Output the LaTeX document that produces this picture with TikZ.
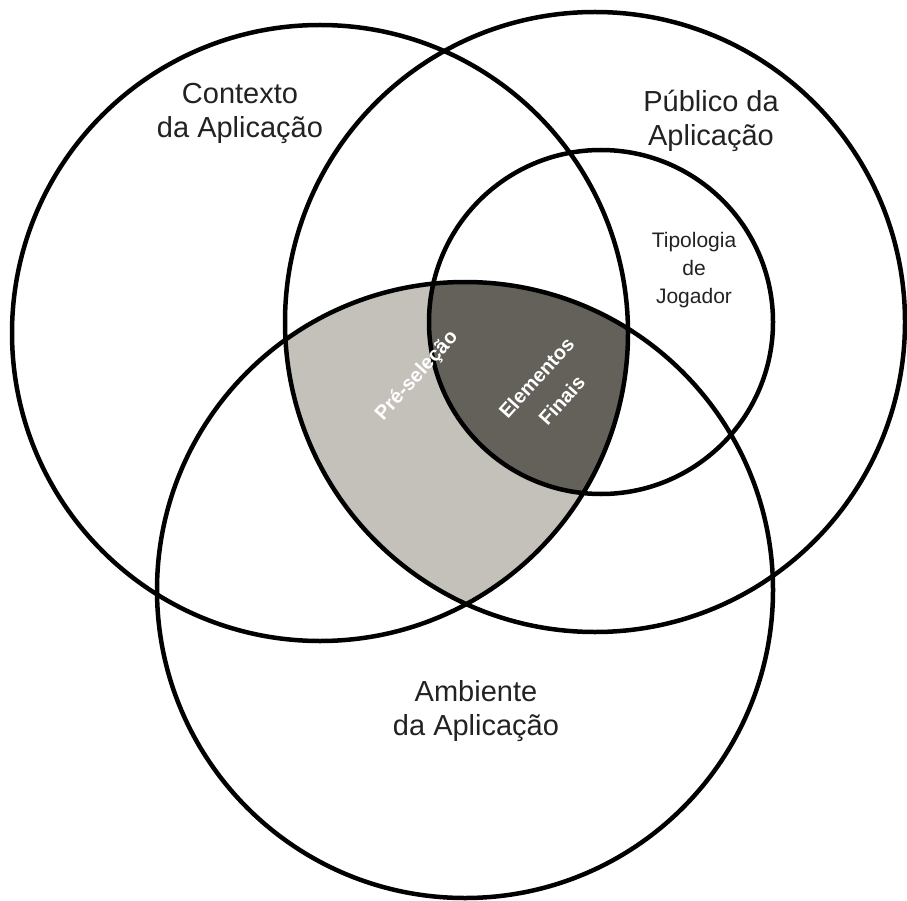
\documentclass[tikz,border=0pt]{standalone}
\usepackage{fontspec}
\setmainfont{Liberation Sans}
\definecolor{preshade}{HTML}{C4C1BA}
\definecolor{finalshade}{HTML}{64615B}
\definecolor{labeltext}{HTML}{222222}
\begin{document}
\begin{tikzpicture}[x=1pt,y=-1pt,
  ring/.style={draw=black, line width=4.5pt},
  setlabel/.style={text=labeltext, align=center, inner sep=0pt,
    font=\fontsize{29}{34}\selectfont},
  sublabel/.style={text=labeltext, align=center, inner sep=0pt,
    font=\fontsize{21}{28}\selectfont},
  zonelabel/.style={text=white, align=center, inner sep=0pt, rotate=48,
    font=\bfseries\fontsize{20}{34}\selectfont}]
\useasboundingbox (0,0) rectangle (907,901);

% centres of the four sets
\coordinate (ctx) at (320,333);
\coordinate (pub) at (595,322);
\coordinate (amb) at (465,590);
\coordinate (tip) at (601,322);

% Contexto ∩ Público ∩ Ambiente
\begin{scope}
  \clip (ctx) circle[radius=308pt];
  \clip (pub) circle[radius=310pt];
  \fill[preshade] (amb) circle[radius=308pt];
\end{scope}
% Contexto ∩ Tipologia ∩ Ambiente
\begin{scope}
  \clip (ctx) circle[radius=308pt];
  \clip (tip) circle[radius=172pt];
  \fill[finalshade] (amb) circle[radius=308pt];
\end{scope}

% set outlines
\draw[ring] (ctx) circle[radius=308pt];
\draw[ring] (pub) circle[radius=310pt];
\draw[ring] (amb) circle[radius=308pt];
\draw[ring] (tip) circle[radius=172pt];

% set names
\node[setlabel] (ctxname) at (240,113) {Contexto\\da Aplicação};
\node[setlabel] (pubname) at (711,121) {Público da\\Aplicação};
\node[setlabel] (ambname) at (476,711) {Ambiente\\da Aplicação};
\node[sublabel] (tipname) at (694,270) {Tipologia\\de\\Jogador};

% region names
\node[zonelabel] (prename) at (417,376) {Pré-seleção};
\node[zonelabel] (finalname) at (549,389) {Elementos\\Finais};
\end{tikzpicture}
\end{document}
